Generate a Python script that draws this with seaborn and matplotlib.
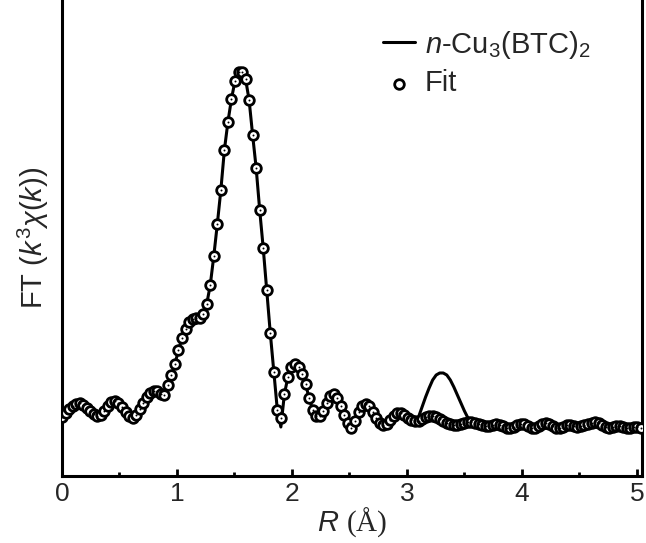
import numpy as np
import pandas as pd
import matplotlib
matplotlib.use("Agg")
import matplotlib.pyplot as plt
from matplotlib.ticker import MultipleLocator
import seaborn as sns

# Fourier-transformed EXAFS magnitude of n-Cu3(BTC)2 with its fit
r_step = 0.0307  # Angstrom spacing of the R grid
n_points = 165

measured = [
    5.9, 6.3, 6.7, 7.0, 7.2, 7.3, 7.1, 6.8, 6.5, 6.2,
    6.0, 6.1, 6.5, 7.0, 7.4, 7.5, 7.3, 6.9, 6.4, 6.0,
    5.8, 6.1, 6.7, 7.3, 7.9, 8.3, 8.5, 8.5, 8.2, 8.1,
    9.1, 10.1, 11.2, 12.6, 13.8, 14.7, 15.4, 15.7, 15.8, 15.8,
    16.2, 17.2, 19.1, 22.0, 25.2, 28.6, 32.6, 35.4, 37.7, 39.5,
    40.4, 40.4, 39.7, 37.6, 34.1, 30.8, 26.6, 22.8, 18.6, 14.3,
    10.4, 6.6, 4.9, 8.2, 9.9, 10.9, 11.2, 10.9, 10.2, 9.2,
    7.8, 6.6, 6.0, 6.0, 6.5, 7.3, 8.0, 8.2, 7.8, 7.0,
    6.1, 5.3, 4.8, 5.5, 6.4, 7.0, 7.2, 7.0, 6.4, 5.8,
    5.3, 5.1, 5.2, 5.6, 6.0, 6.3, 6.3, 6.1, 5.8, 5.6,
    5.5, 5.9, 6.9, 7.9, 8.8, 9.6, 10.1, 10.3, 10.3, 10.1,
    9.6, 8.9, 8.1, 7.3, 6.5, 5.8, 5.4, 5.3, 5.2, 5.1,
    5.0, 5.0, 5.1, 5.2, 5.1, 5.0, 4.8, 4.8, 4.9, 5.1,
    5.2, 5.2, 5.0, 4.8, 4.8, 5.0, 5.2, 5.3, 5.2, 5.0,
    4.8, 4.8, 4.9, 5.1, 5.1, 5.0, 4.9, 5.0, 5.1, 5.2,
    5.3, 5.4, 5.3, 5.1, 4.9, 4.8, 4.9, 5.0, 5.0, 4.9,
    4.8, 4.8, 4.9, 4.9, 4.8,
]

fit = [
    5.9, 6.3, 6.7, 7.0, 7.2, 7.3, 7.1, 6.8, 6.5, 6.2,
    6.0, 6.1, 6.5, 7.0, 7.4, 7.5, 7.3, 6.9, 6.4, 6.0,
    5.8, 6.1, 6.7, 7.3, 7.9, 8.3, 8.5, 8.5, 8.2, 8.1,
    9.1, 10.1, 11.2, 12.6, 13.8, 14.7, 15.4, 15.7, 15.8, 15.8,
    16.2, 17.2, 19.1, 22.0, 25.2, 28.6, 32.6, 35.4, 37.7, 39.5,
    40.4, 40.4, 39.7, 37.6, 34.1, 30.8, 26.6, 22.8, 18.6, 14.3,
    10.4, 6.6, 5.8, 8.2, 9.9, 10.9, 11.2, 10.9, 10.2, 9.2,
    7.8, 6.6, 6.0, 6.0, 6.5, 7.3, 8.0, 8.2, 7.8, 7.0,
    6.1, 5.3, 4.8, 5.5, 6.4, 7.0, 7.2, 7.0, 6.4, 5.8,
    5.3, 5.1, 5.2, 5.6, 6.0, 6.3, 6.3, 6.1, 5.8, 5.6,
    5.5, 5.5, 5.7, 5.9, 6.0, 6.0, 5.9, 5.7, 5.5, 5.3,
    5.2, 5.1, 5.1, 5.2, 5.3, 5.4, 5.4, 5.3, 5.2, 5.1,
    5.0, 5.0, 5.1, 5.2, 5.1, 5.0, 4.8, 4.8, 4.9, 5.1,
    5.2, 5.2, 5.0, 4.8, 4.8, 5.0, 5.2, 5.3, 5.2, 5.0,
    4.8, 4.8, 4.9, 5.1, 5.1, 5.0, 4.9, 5.0, 5.1, 5.2,
    5.3, 5.4, 5.3, 5.1, 4.9, 4.8, 4.9, 5.0, 5.0, 4.9,
    4.8, 4.8, 4.9, 4.9, 4.8,
]

x_ticks = [0, 1, 2, 3, 4, 5]
series_labels = [r"$\mathit{n}$-Cu$_3$(BTC)$_2$", "Fit"]

r = np.arange(n_points) * r_step
df = pd.DataFrame({"R": r, "measured": measured, "fit": fit})

sns.set_style("ticks")
plt.rcParams["font.family"] = ["Liberation Sans", "DejaVu Sans"]
plt.rcParams["mathtext.fontset"] = "custom"
plt.rcParams["mathtext.rm"] = "Liberation Sans"
plt.rcParams["mathtext.it"] = "Liberation Sans:italic"
plt.rcParams["mathtext.sf"] = "Liberation Serif"

fig = plt.figure(figsize=(6.46, 5.43), dpi=100)
ax = fig.add_axes([62 / 646, 67 / 543, 580 / 646, 476 / 543])

sns.lineplot(data=df, x="R", y="measured", ax=ax, color="black",
             linewidth=2.2, label=series_labels[0], zorder=2)
sns.scatterplot(data=df, x="R", y="fit", ax=ax, marker="o", s=48,
                facecolor="white", edgecolor="black", linewidth=2.0,
                label=series_labels[1], zorder=3)
# small dot at the centre of each fit symbol
sns.scatterplot(data=df, x="R", y="fit", ax=ax, marker="o", s=2,
                color="black", linewidth=0, zorder=4, legend=False)

ax.set_xlim(0, n_points * r_step - r_step * 0.7)
ax.set_ylim(0, 47.6)
ax.set_xticks(x_ticks)
ax.xaxis.set_minor_locator(MultipleLocator(0.5))
ax.set_yticks([])

ax.tick_params(axis="x", which="major", direction="in", length=5, width=2,
               labelsize=19, pad=4, color="black")
ax.tick_params(axis="x", which="minor", direction="in", length=3, width=2,
               color="black")

for side in ["left", "bottom", "right"]:
    ax.spines[side].set_linewidth(2.2)
    ax.spines[side].set_color("black")
ax.spines["top"].set_visible(False)

ax.set_xlabel(r"$\mathit{R}\ \mathsf{(Å)}$", fontsize=21, labelpad=0)
ax.set_ylabel(r"FT ($\mathit{k}^3\chi(\mathit{k})$)", fontsize=21, labelpad=8)

ax.legend(loc="upper left", frameon=False, fontsize=21, handlelength=1.1,
          handletextpad=0.35, labelspacing=0.3, borderaxespad=0.0,
          borderpad=0.0, bbox_to_anchor=(0.553, 0.94))

fig.savefig("out.png", dpi=100)
